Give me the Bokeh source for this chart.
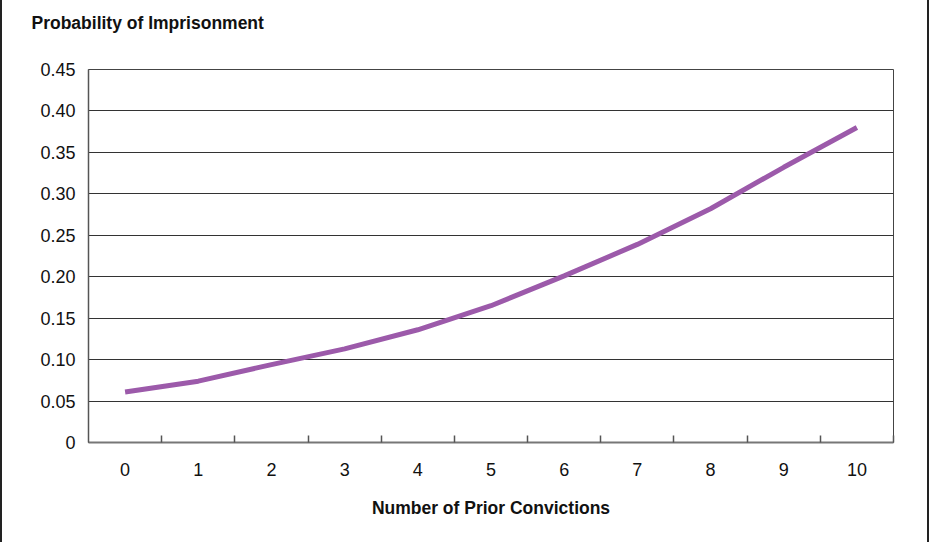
from bokeh.plotting import figure
from bokeh.models import FixedTicker, CustomJSTickFormatter, ColumnDataSource, Range1d, Title
from bokeh.embed import file_html
from bokeh.resources import INLINE

prior_convictions = [0, 1, 2, 3, 4, 5, 6, 7, 8, 9, 10]
probability = [0.061, 0.074, 0.094, 0.113, 0.136, 0.165, 0.201, 0.239, 0.282, 0.332, 0.380]
y_ticks = [0, 0.05, 0.10, 0.15, 0.20, 0.25, 0.30, 0.35, 0.40, 0.45]

FONT = "Liberation Sans"

src = ColumnDataSource(dict(x=prior_convictions, y=probability))

p = figure(width=929, height=542, output_backend="svg", toolbar_location=None,
           x_range=Range1d(-0.5, 10.5), y_range=Range1d(0, 0.45),
           min_border_left=86, min_border_right=38, min_border_top=69, min_border_bottom=100,
           title=None)

p.styles = {"border-left": "2px solid #222", "border-right": "2px solid #222"}

p.line("x", "y", source=src, line_color="#9C5AAA", line_width=5)

# spacer between frame and title, then the title (outermost)
p.add_layout(Title(text=" ", text_font_size="1px", standoff=34), "above")
p.add_layout(Title(text="Probability of Imprisonment", align="left", offset=-57, standoff=0,
                   text_font=FONT, text_font_size="17.5px", text_font_style="bold",
                   text_color="#111"), "above")

p.background_fill_color = "white"
p.border_fill_color = "white"
p.outline_line_color = "#444"
p.outline_line_width = 1

p.xgrid.visible = False
p.ygrid.ticker = FixedTicker(ticks=y_ticks)
p.ygrid.grid_line_color = "#333"
p.ygrid.grid_line_width = 1

xa = p.xaxis[0]
xa.ticker = FixedTicker(ticks=prior_convictions,
                        minor_ticks=[v + 0.5 for v in prior_convictions])
xa.major_tick_line_color = None
xa.minor_tick_in = 7
xa.minor_tick_out = 0
xa.minor_tick_line_color = "#555"
xa.minor_tick_line_width = 1.5
xa.axis_line_color = "#777"
xa.axis_line_width = 2
xa.major_label_text_font = FONT
xa.major_label_text_font_size = "18px"
xa.major_label_text_color = "#111"
xa.major_label_standoff = 14
xa.axis_label = "Number of Prior Convictions"
xa.axis_label_text_font = FONT
xa.axis_label_text_font_size = "17.5px"
xa.axis_label_text_font_style = "bold"
xa.axis_label_text_color = "#111"
xa.axis_label_standoff = 19

ya = p.yaxis[0]
ya.ticker = FixedTicker(ticks=y_ticks)
ya.formatter = CustomJSTickFormatter(code="return tick == 0 ? '0' : tick.toFixed(2);")
ya.major_tick_line_color = None
ya.minor_tick_line_color = None
ya.axis_line_color = "#555"
ya.axis_line_width = 1.5
ya.major_label_text_font = FONT
ya.major_label_text_font_size = "18px"
ya.major_label_text_color = "#111"
ya.major_label_standoff = 7

open("out.html", "w").write(file_html(p, INLINE))
